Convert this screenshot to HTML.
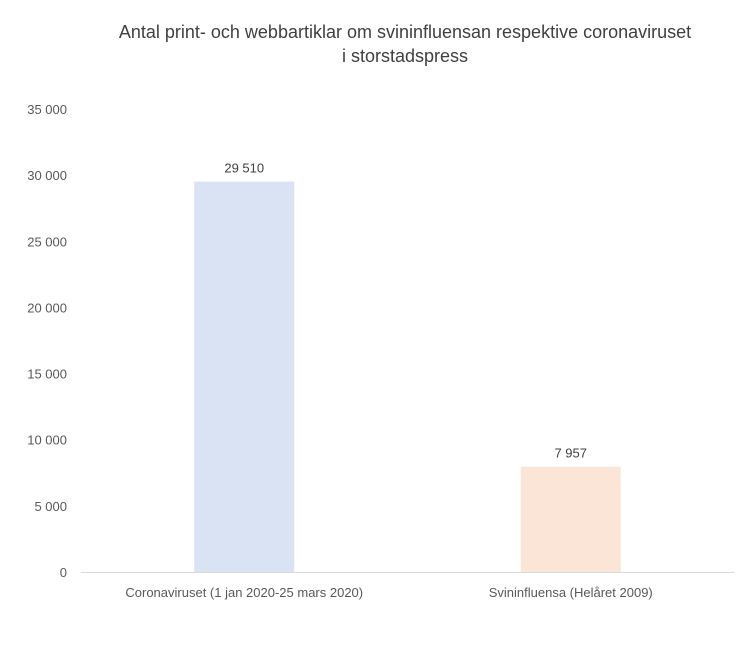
<!DOCTYPE html>
<html><head><meta charset="utf-8"><style>
body{margin:0;background:#fff;font-family:"Liberation Sans",sans-serif}
</style></head><body>
<svg width="750" height="641" font-family="Liberation Sans, sans-serif">
<rect width="750" height="641" fill="#fff"/>
<text x="405" y="38" text-anchor="middle" font-size="18" fill="#404040">Antal print- och webbartiklar om svininfluensan respektive coronaviruset</text>
<text x="405" y="62" text-anchor="middle" font-size="18" fill="#404040">i storstadspress</text>
<g id="yaxis"></g>
<g id="bars"></g>
<line x1="81" x2="734" y1="572.5" y2="572.5" stroke="#d9d9d9" stroke-width="1"/>
<g id="xaxis"></g>
</svg>
<script>
const categories=["Coronaviruset (1 jan 2020-25 mars 2020)","Svininfluensa (Helåret 2009)"];
const values=[29510,7957];
const valueLabels=["29 510","7 957"];
const yTicks=[0,5000,10000,15000,20000,25000,30000,35000];
const yTickLabels=["0","5 000","10 000","15 000","20 000","25 000","30 000","35 000"];
const colors=["#dae3f3","#fbe5d6"];
const NS="http://www.w3.org/2000/svg";
const y0=572,y1=109,yMax=35000,xL=81,xR=734;
const y=v=>y0-(v/yMax)*(y0-y1);
const band=(xR-xL)/categories.length;
const xc=i=>xL+band*(i+0.5);
function mk(t,a,p){const e=document.createElementNS(NS,t);for(const k in a)e.setAttribute(k,a[k]);p.appendChild(e);return e;}
const ya=document.getElementById('yaxis');
yTicks.forEach((v,i)=>{const t=mk('text',{x:67,y:y(v)+5,'text-anchor':'end','font-size':13,fill:'#595959'},ya);


t.textContent=yTickLabels[i];});
const bg=document.getElementById('bars'),xa=document.getElementById('xaxis');
values.forEach((v,i)=>{const r=mk('rect',{x:xc(i)-50,y:y(v),width:100,height:y0-y(v),fill:colors[i]},bg);


const l=mk('text',{x:xc(i),y:y(v)-9,'text-anchor':'middle','font-size':13,fill:'#404040'},bg);


l.textContent=valueLabels[i];
const c=mk('text',{x:xc(i),y:597,'text-anchor':'middle','font-size':13,fill:'#595959'},xa);


c.textContent=categories[i];});
</script>
</body></html>
